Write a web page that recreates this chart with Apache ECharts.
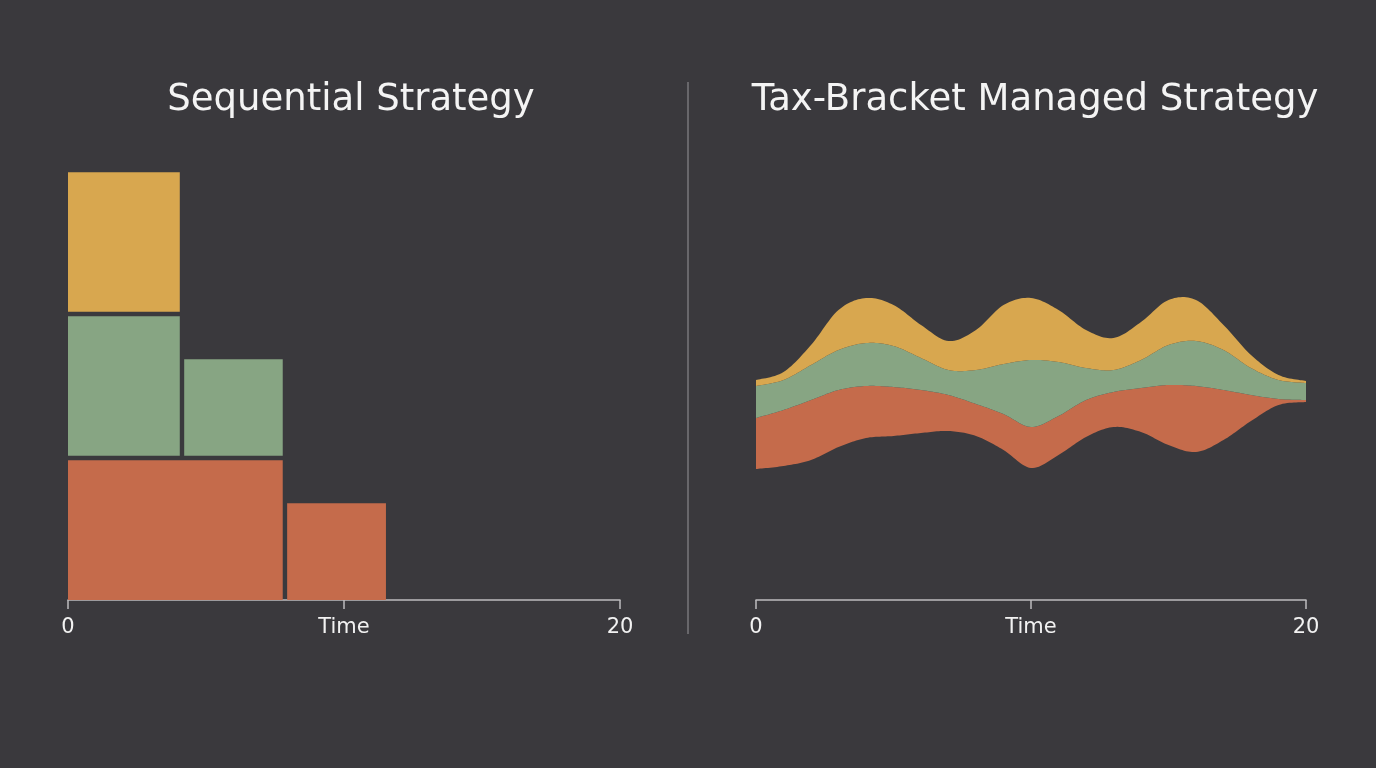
<!DOCTYPE html>
<html>
<head>
<meta charset="utf-8">
<script src="https://cdn.jsdelivr.net/npm/echarts@6/dist/echarts.min.js"></script>
<style>
html,body{margin:0;padding:0;background:#3a393d;}
#chart{width:1376px;height:768px;}
</style>
</head>
<body>
<div id="chart"></div>
<script>
// ---- Data ----
const titles = ['Sequential Strategy', 'Tax-Bracket Managed Strategy'];
const tickLabels = ['0', 'Time', '20'];
const layerNames = ['Layer A', 'Layer B', 'Layer C'];

// Sequential strategy blocks: [startTime, endTime, bottom, top]
const seqRed = [[0, 7.86, 0, 28.4], [7.86, 11.6, 0, 19.8]];
const seqGreen = [[0, 4.13, 28.4, 57.2], [4.13, 7.86, 28.4, 48.6]];
const seqYellow = [[0, 4.13, 57.2, 86.0]];

// Tax-bracket managed strategy (flow): times, baseline offset and layer thicknesses
const flowTimes  = [0,1,2,3,4,5,6,7,8,9,10,11,12,13,14,15,16,17,18,19,20];
const flowBase   = [26.2,26.8,28.0,30.6,32.4,32.8,33.4,33.8,32.8,30.0,26.4,29.0,32.6,34.6,33.6,31.0,29.6,32.0,35.8,39.0,39.6];
const flowRed    = [10.2,11.2,12.0,11.4,10.4,9.8,8.6,7.2,6.4,7.2,8.2,7.8,7.4,7.0,8.8,12.0,13.2,10.0,5.2,1.2,0.4];
const flowGreen  = [6.4,6.0,7.0,8.0,8.6,8.2,6.4,5.0,6.8,10.0,13.4,10.8,6.4,4.4,5.6,8.0,9.0,8.0,5.4,3.8,3.4];
const flowYellow = [1.2,1.6,4.0,8.0,9.0,8.2,6.6,5.8,8.0,11.8,12.4,10.4,7.6,6.4,7.6,9.0,8.2,5.0,2.6,1.0,0.4];

// ---- Styles ----
const C_RED = '#c56b4b', C_GREEN = '#87a583', C_YELLOW = '#d8a74f';
const layerColors = [C_RED, C_GREEN, C_YELLOW];
const BG = '#3a393d';
const FONT = '"DejaVu Sans", "Noto Sans", sans-serif';
const AXIS_COLOR = '#bdbcbf';

// stacked boundaries built from the layer arrays
const flowLayers = [flowRed, flowGreen, flowYellow];
const flowBounds = [flowBase.slice()];
flowLayers.forEach((layer, k) => {
  flowBounds.push(flowBounds[k].map((v, i) => v + layer[i]));
});

function blockRender(params, api) {
  const x0v = api.value(0), x1v = api.value(1), y0v = api.value(2), y1v = api.value(3);
  const p0 = api.coord([x0v, y0v]);
  const p1 = api.coord([x1v, y1v]);
  const g = 2.2;
  const left = p0[0] + (x0v > 0 ? g : 0);
  const right = p1[0] - g;
  const bottom = p0[1] - (y0v > 0 ? g : 0);
  const top = p1[1] + g;
  return {
    type: 'rect',
    shape: { x: left, y: top, width: right - left, height: bottom - top },
    style: { fill: api.visual('color') }
  };
}

function blockSeries(name, data, color) {
  return {
    type: 'custom', name, xAxisIndex: 0, yAxisIndex: 0,
    renderItem: blockRender,
    itemStyle: { color },
    encode: { x: [0, 1], y: [2, 3] },
    data, silent: true
  };
}

// smooth curve (Catmull-Rom as cubic Bezier) sampled into pixel points
function smoothPoints(pts) {
  const out = [pts[0]];
  const n = pts.length, steps = 14;
  for (let i = 0; i < n - 1; i++) {
    const p0 = pts[i - 1] || pts[i], p1 = pts[i], p2 = pts[i + 1], p3 = pts[i + 2] || pts[i + 1];
    const c1 = [p1[0] + (p2[0] - p0[0]) / 6, p1[1] + (p2[1] - p0[1]) / 6];
    const c2 = [p2[0] - (p3[0] - p1[0]) / 6, p2[1] - (p3[1] - p1[1]) / 6];
    for (let s = 1; s <= steps; s++) {
      const t = s / steps, u = 1 - t;
      out.push([
        u*u*u*p1[0] + 3*u*u*t*c1[0] + 3*u*t*t*c2[0] + t*t*t*p2[0],
        u*u*u*p1[1] + 3*u*u*t*c1[1] + 3*u*t*t*c2[1] + t*t*t*p2[1]
      ]);
    }
  }
  return out;
}

function flowRender(params, api) {
  const k = params.dataIndex;
  const lower = flowTimes.map((t, i) => api.coord([t, flowBounds[k][i]]));
  const upper = flowTimes.map((t, i) => api.coord([t, flowBounds[k + 1][i]]));
  const pts = smoothPoints(upper).concat(smoothPoints(lower).reverse());
  return {
    type: 'polygon',
    shape: { points: pts },
    style: { fill: layerColors[k] }
  };
}

const axisLineCfg = { show: true, lineStyle: { color: AXIS_COLOR, width: 1.5 } };
const axisTickCfg = { show: true, length: 9, lineStyle: { color: AXIS_COLOR, width: 1.5 } };
const labelStyle = { color: '#f2f2f2', fontSize: 21, fontFamily: FONT, margin: 17 };
const titleStyle = { color: '#f4f4f4', fontSize: 37, fontWeight: 'normal', fontFamily: FONT };

function xAxisCfg(gridIndex) {
  return {
    type: 'value', gridIndex, min: 0, max: 20, interval: 10,
    axisLine: axisLineCfg, axisTick: axisTickCfg, splitLine: { show: false },
    axisLabel: Object.assign({}, labelStyle, { formatter: v => tickLabels[Math.round(v / 10)] })
  };
}

const chart = echarts.init(document.getElementById('chart'), null, { renderer: 'canvas' });
chart.setOption({
  backgroundColor: BG,
  animation: false,
  title: [
    { text: titles[0], left: 346, top: 77, textAlign: 'center', textStyle: titleStyle },
    { text: titles[1], left: 1030, top: 77, textAlign: 'center', textStyle: titleStyle }
  ],
  grid: [
    { left: 68, right: 756, top: 100, bottom: 168 },
    { left: 756, right: 70, top: 100, bottom: 168 }
  ],
  xAxis: [xAxisCfg(0), xAxisCfg(1)],
  yAxis: [
    { type: 'value', gridIndex: 0, min: 0, max: 100, show: false },
    { type: 'value', gridIndex: 1, min: 0, max: 100, show: false }
  ],
  graphic: [
    { type: 'line', shape: { x1: 688, y1: 82, x2: 688, y2: 634 },
      style: { stroke: '#68676b', lineWidth: 2 }, silent: true }
  ],
  series: [
    blockSeries(layerNames[0], seqRed, C_RED),
    blockSeries(layerNames[1], seqGreen, C_GREEN),
    blockSeries(layerNames[2], seqYellow, C_YELLOW),
    {
      type: 'custom', name: 'flow', xAxisIndex: 1, yAxisIndex: 1,
      renderItem: flowRender,
      encode: { x: 0, y: 1 },
      data: layerNames.map((n, k) => [flowTimes[0], flowBounds[k][0]]),
      silent: true
    }
  ]
});
</script>
</body>
</html>
